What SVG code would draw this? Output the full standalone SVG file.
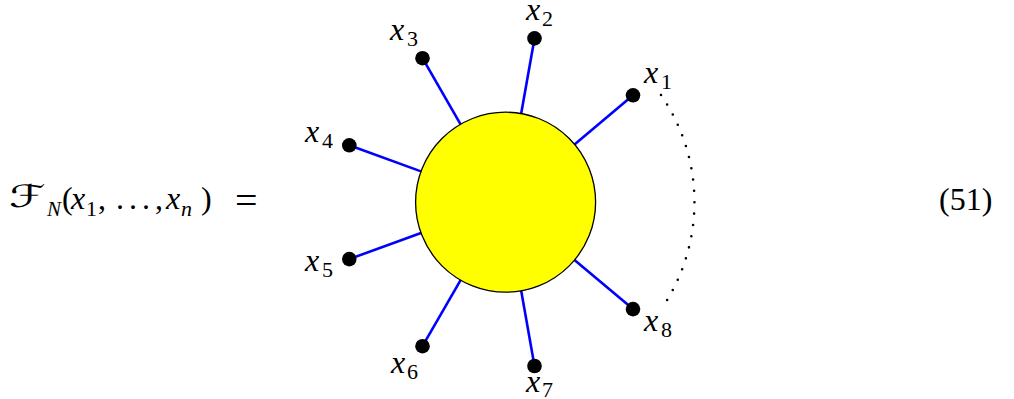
<svg xmlns="http://www.w3.org/2000/svg" width="1014" height="399" viewBox="0 0 1014 399">
<style>
.edge{stroke:#0000ff;stroke-width:2.6;fill:none}
.dot{fill:#000}
.arc{stroke:#000;stroke-width:2.6;stroke-linecap:round;fill:none}
</style>
<rect width="1014" height="399" fill="#fff"/>
<g id="formula" fill="#000">
<text x="0" y="207" font-family="DejaVu Sans" font-size="31" transform="translate(9 0) scale(1.5 1)">ℱ</text>
<text x="47" y="216" font-family="Liberation Serif" font-size="21" font-style="italic">N</text>
<text x="62" y="209" font-family="Liberation Serif" font-size="32">(</text>
<text x="71" y="209" font-family="Liberation Serif" font-size="32" font-style="italic">x</text>
<text x="86" y="216" font-family="Liberation Serif" font-size="22">1</text>
<text x="98" y="209" font-family="Liberation Serif" font-size="32">,</text>
<text x="116" y="209" font-family="Liberation Serif" font-size="32" letter-spacing="5">...,</text>
<text x="166" y="209" font-family="Liberation Serif" font-size="32" font-style="italic">x</text>
<text x="181" y="216" font-family="Liberation Serif" font-size="22" font-style="italic">n</text>
<text x="201" y="209" font-family="Liberation Serif" font-size="32">)</text>
<text x="235" y="214" font-family="Liberation Serif" font-size="40">=</text>
</g>
<g id="eqnum"><text x="939" y="210" font-family="Liberation Serif" font-size="32">(51)</text></g>
<g id="connectors">
<line class="edge" x1="574.5" y1="144.4" x2="633" y2="95.3"/>
<line class="edge" x1="521.2" y1="113.6" x2="534.5" y2="38.4"/>
<line class="edge" x1="460.6" y1="124.3" x2="422.5" y2="58.2"/>
<line class="edge" x1="421" y1="171.4" x2="349.3" y2="145.3"/>
<line class="edge" x1="421" y1="233" x2="349.3" y2="259.1"/>
<line class="edge" x1="460.6" y1="280.1" x2="422.5" y2="346.2"/>
<line class="edge" x1="521.2" y1="290.8" x2="534.5" y2="366"/>
<line class="edge" x1="574.5" y1="260" x2="633" y2="309.1"/>
<path class="arc" d="M661 95 A188.5 188.5 0 0 1 661 309.4" pathLength="20" stroke-dasharray="0 1"/>
</g>
<g id="blob"><circle cx="505.6" cy="202.2" r="90" fill="#ffff00" stroke="#000" stroke-width="1.3"/></g>
<g id="x1"><circle class="dot" cx="633" cy="95.3" r="7.3"/><text x="644" y="83" font-family="Liberation Serif" font-size="32" font-style="italic">x</text><text x="661" y="89" font-family="Liberation Serif" font-size="22">1</text></g>
<g id="x2"><circle class="dot" cx="534.5" cy="38.4" r="7.3"/><text x="526" y="20" font-family="Liberation Serif" font-size="32" font-style="italic">x</text><text x="542" y="26" font-family="Liberation Serif" font-size="22">2</text></g>
<g id="x3"><circle class="dot" cx="422.5" cy="58.2" r="7.3"/><text x="390" y="40" font-family="Liberation Serif" font-size="32" font-style="italic">x</text><text x="407" y="46" font-family="Liberation Serif" font-size="22">3</text></g>
<g id="x4"><circle class="dot" cx="349.3" cy="145.3" r="7.3"/><text x="305" y="142" font-family="Liberation Serif" font-size="32" font-style="italic">x</text><text x="322" y="148" font-family="Liberation Serif" font-size="22">4</text></g>
<g id="x5"><circle class="dot" cx="349.3" cy="259.1" r="7.3"/><text x="305" y="271" font-family="Liberation Serif" font-size="32" font-style="italic">x</text><text x="322" y="277" font-family="Liberation Serif" font-size="22">5</text></g>
<g id="x6"><circle class="dot" cx="422.5" cy="346.2" r="7.3"/><text x="391" y="373" font-family="Liberation Serif" font-size="32" font-style="italic">x</text><text x="407" y="379" font-family="Liberation Serif" font-size="22">6</text></g>
<g id="x7"><circle class="dot" cx="534.5" cy="366" r="7.3"/><text x="526" y="392" font-family="Liberation Serif" font-size="32" font-style="italic">x</text><text x="542" y="397" font-family="Liberation Serif" font-size="22">7</text></g>
<g id="x8"><circle class="dot" cx="633" cy="309.1" r="7.3"/><text x="644" y="331" font-family="Liberation Serif" font-size="32" font-style="italic">x</text><text x="661" y="337" font-family="Liberation Serif" font-size="22">8</text></g>
</svg>
